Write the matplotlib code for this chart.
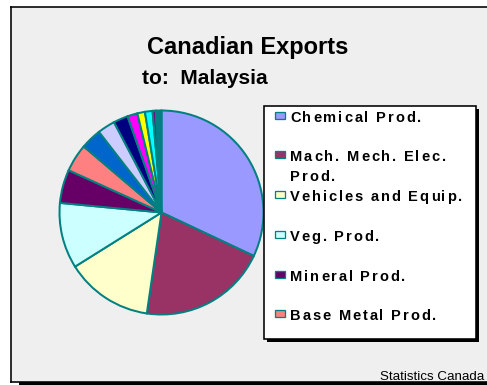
import matplotlib
matplotlib.use("Agg")
import matplotlib.pyplot as plt
from matplotlib.patches import Rectangle
from matplotlib.font_manager import FontProperties, findfont, get_font

# Export shares (%) by product group, largest first
shares = [32.0, 20.3, 13.8, 10.4, 5.3, 4.4, 3.3, 2.8, 2.3, 1.6, 1.2, 1.2, 0.5, 0.9]
slice_colors = ['#9999ff', '#993366', '#ffffcc', '#ccffff', '#660066', '#ff8080',
                '#0066cc', '#ccccff', '#000080', '#ff00ff', '#ffff00', '#00ffff',
                '#800080', '#008080']
legend_labels = ['Chemical Prod.', 'Mach. Mech. Elec.\nProd.', 'Vehicles and Equip.',
                 'Veg. Prod.', 'Mineral Prod.', 'Base Metal Prod.']
title_text = 'Canadian Exports'
subtitle_text = 'to:  Malaysia'
source_text = 'Statistics Canada'

W, H, DPI = 487, 385, 100
fig = plt.figure(figsize=(W / DPI, H / DPI), dpi=DPI)
fig.patch.set_facecolor('white')

PX = 72.0 / DPI  # points per pixel

# Chart area: grey panel framed on the left, top and bottom, running past the right edge
bg = fig.add_axes([0, 0, 1, 1], zorder=0)
bg.set_xlim(0, W)
bg.set_ylim(H, 0)
bg.axis('off')
bg.add_patch(Rectangle((11, 7), W + 20, 375, facecolor='#efefef', edgecolor='none',
                       clip_on=False))
bg.add_patch(Rectangle((19, 382), W + 20, 3.5, facecolor='black', edgecolor='none',
                       clip_on=False))
bg.plot([11, 11], [382, 7], color='black', linewidth=1.6 * PX, clip_on=False)
bg.plot([10.2, W + 20], [7, 7], color='black', linewidth=1.6 * PX, clip_on=False,
        solid_capstyle='butt')
bg.plot([10.2, W + 20], [382, 382], color='black', linewidth=1.6 * PX, clip_on=False,
        solid_capstyle='butt')

# Pie
cx, cy, r = 161.5, 212.5, 102
pie_ax = fig.add_axes([(cx - r) / W, (H - cy - r) / H, 2 * r / W, 2 * r / H], zorder=1)
wedges, _ = pie_ax.pie(shares, colors=slice_colors, startangle=90, counterclock=False,
                       radius=1.0,
                       wedgeprops=dict(edgecolor='#008080', linewidth=2.0 * PX))
for w in wedges:
    w.set_clip_on(False)
pie_ax.set_xlim(-1, 1)
pie_ax.set_ylim(-1, 1)
pie_ax.set_aspect('equal')
pie_ax.axis('off')

# Overlay for titles, legend and source note
top = fig.add_axes([0, 0, 1, 1], zorder=2)
top.set_xlim(0, W)
top.set_ylim(H, 0)
top.axis('off')
top.patch.set_alpha(0)

bold_fp = FontProperties(family='Liberation Sans', weight='bold')


def tracked_text(ax, x, y, s, size_px, tracking, fp):
    """Draw a string glyph by glyph with extra spacing between letters."""
    font = get_font(findfont(fp))
    font.set_size(size_px * PX, DPI)
    for ch in s:
        ax.text(x, y, ch, fontproperties=fp, fontsize=size_px * PX,
                ha='left', va='baseline', color='black')
        adv = font.load_char(ord(ch)).linearHoriAdvance / 65536.0
        x += adv + tracking


top.text(248, 54, title_text, fontproperties=bold_fp, fontsize=17,
         ha='center', va='baseline', color='black')
top.text(141.5, 84, subtitle_text, fontproperties=bold_fp, fontsize=15,
         ha='left', va='baseline', color='black')

# Legend box with drop shadow
lx0, ly0, lx1, ly1 = 264, 106, 476, 339
top.add_patch(Rectangle((lx0 + 3, ly0 + 3), lx1 - lx0, ly1 - ly0,
                        facecolor='black', edgecolor='none'))
top.add_patch(Rectangle((lx0, ly0), lx1 - lx0, ly1 - ly0,
                        facecolor='white', edgecolor='black', linewidth=1.6 * PX))

baselines = [122, 161, 201, 241, 281, 320]
line_gap = 20
for label, color, base in zip(legend_labels, slice_colors, baselines):
    top.add_patch(Rectangle((275, base - 10.3), 10, 7, facecolor=color,
                            edgecolor='#008080', linewidth=1.3 * PX))
    for i, line in enumerate(label.split('\n')):
        tracked_text(top, 290, base + i * line_gap, line, 14.6, 1.9, bold_fp)

top.text(484, 380, source_text, family='Liberation Sans', fontsize=9.6,
         ha='right', va='baseline', color='black')

fig.savefig('out.png', dpi=DPI, facecolor='white')
